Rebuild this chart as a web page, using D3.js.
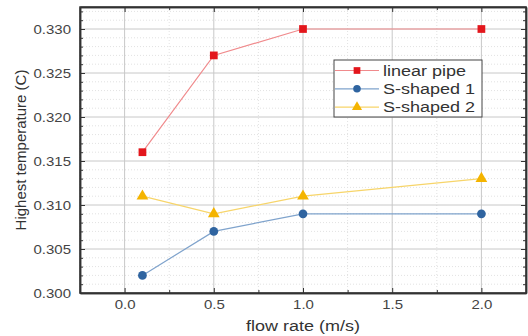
<!DOCTYPE html>
<html>
<head>
<meta charset="utf-8">
<script src="https://cdn.jsdelivr.net/npm/d3@7"></script>
<style>
  body { margin: 0; background: #fff; }
  text { font-family: "Liberation Sans", Arial, sans-serif; }
</style>
</head>
<body>
<svg id="chart" width="528" height="336"></svg>
<script>
const flowRates = [0.1, 0.5, 1.0, 2.0];
const linearPipe = [0.316, 0.327, 0.330, 0.330];
const sShaped1 = [0.302, 0.307, 0.309, 0.309];
const sShaped2 = [0.311, 0.309, 0.311, 0.313];
const seriesNames = ['linear pipe', 'S-shaped 1', 'S-shaped 2'];
const xTicks = [0.0, 0.5, 1.0, 1.5, 2.0];
const yTicks = [0.300, 0.305, 0.310, 0.315, 0.320, 0.325, 0.330];

const margin = {top: 7, right: 2, bottom: 43, left: 80};
const svg = d3.select('#chart');
const width = 528 - margin.left - margin.right;
const height = 336 - margin.top - margin.bottom;
// the source picture is stretched sideways, so horizontal text is widened
const stretch = 1.2;

function translate(x, y) {
  return `translate(${x}, ${y})`;
}

const xScale = d3.scaleLinear().domain([-0.25, 2.25]).range([0, width]);
const yScale = d3.scaleLinear().domain([0.300, 0.3325]).range([height, 0]);

const g = svg.append('g').attr('transform', translate(margin.left, margin.top));

// minor grid (dotted)
const xMinor = d3.range(-0.25, 2.26, 0.25).filter(v => Math.abs(v * 2 - Math.round(v * 2)) > 0.01);
const yMinor = d3.range(0.300, 0.3326, 0.001).filter(v => Math.abs(v * 200 - Math.round(v * 200)) > 0.01);

g.selectAll('.xminor').data(xMinor).enter().append('line')
  .attr('x1', d => xScale(d)).attr('x2', d => xScale(d))
  .attr('y1', 0).attr('y2', height)
  .style('stroke', '#e2e2e2').style('stroke-dasharray', '1,2');
g.selectAll('.yminor').data(yMinor).enter().append('line')
  .attr('y1', d => yScale(d)).attr('y2', d => yScale(d))
  .attr('x1', 0).attr('x2', width)
  .style('stroke', '#e2e2e2').style('stroke-dasharray', '1,2');

// major grid
g.selectAll('.xgrid').data(xTicks).enter().append('line')
  .attr('x1', d => xScale(d)).attr('x2', d => xScale(d))
  .attr('y1', 0).attr('y2', height)
  .style('stroke', '#c8c8c8');
g.selectAll('.ygrid').data(yTicks).enter().append('line')
  .attr('y1', d => yScale(d)).attr('y2', d => yScale(d))
  .attr('x1', 0).attr('x2', width)
  .style('stroke', '#c8c8c8');

// axes
const xAxis = g.append('g').attr('transform', translate(0, height))
  .call(d3.axisBottom(xScale).tickValues(xTicks).tickFormat(d3.format('.1f')).tickSizeInner(-5).tickSizeOuter(0).tickPadding(7));
g.append('g').attr('transform', translate(0, height))
  .call(d3.axisBottom(xScale).tickValues(xMinor).tickFormat('').tickSizeInner(-3).tickSizeOuter(0));
const yAxis = g.append('g')
  .call(d3.axisLeft(yScale).tickValues(yTicks).tickFormat(d3.format('.3f')).tickSizeInner(-5).tickSizeOuter(0).tickPadding(9));
g.append('g')
  .call(d3.axisLeft(yScale).tickValues(yMinor).tickFormat('').tickSizeInner(-3).tickSizeOuter(0));
g.append('g')
  .call(d3.axisTop(xScale).tickValues(xTicks).tickFormat('').tickSizeInner(-5).tickSizeOuter(0));
g.append('g')
  .call(d3.axisTop(xScale).tickValues(xMinor).tickFormat('').tickSizeInner(-3).tickSizeOuter(0));
g.append('g').attr('transform', translate(width, 0))
  .call(d3.axisRight(yScale).tickValues(yTicks).tickFormat('').tickSizeInner(-5).tickSizeOuter(0));
g.append('g').attr('transform', translate(width, 0))
  .call(d3.axisRight(yScale).tickValues(yMinor).tickFormat('').tickSizeInner(-3).tickSizeOuter(0));

g.selectAll('.domain').style('stroke', '#333').style('stroke-width', 1.5);
g.selectAll('.tick line').style('stroke', '#333');
g.selectAll('.tick text').style('font-size', '12.5px').style('fill', '#444');
xAxis.selectAll('.tick text').attr('transform', `scale(${stretch},1)`);
yAxis.selectAll('.tick text')
  .attr('x', -9 / stretch)
  .attr('transform', `scale(${stretch},1)`);

// frame
g.append('rect').attr('width', width).attr('height', height)
  .style('fill', 'none').style('stroke', '#333').style('stroke-width', 1.5);

// axis titles
svg.append('text')
  .attr('transform', translate(margin.left + xScale(1.0), 331) + ` scale(${stretch},1)`)
  .attr('text-anchor', 'middle').style('font-size', '15px').style('fill', '#333')
  .text('flow rate (m/s)');
svg.append('text')
  .attr('transform', translate(26, margin.top + height / 2) + ' rotate(-90)')
  .attr('text-anchor', 'middle').style('font-size', '15px').style('fill', '#333')
  .text('Highest temperature (C)');

// series
const series = [
  {name: seriesNames[0], values: linearPipe, line: '#f08a8c', mark: '#e3161c', shape: d3.symbolSquare, size: 60},
  {name: seriesNames[1], values: sShaped1, line: '#7fa3cc', mark: '#2f64a0', shape: d3.symbolCircle, size: 60},
  {name: seriesNames[2], values: sShaped2, line: '#f7d56a', mark: '#f4b400', shape: d3.symbolTriangle, size: 60}
];

const line = d3.line()
  .x((d, i) => xScale(flowRates[i]))
  .y(d => yScale(d));

series.forEach(s => {
  g.append('path').datum(s.values)
    .attr('d', line)
    .style('fill', 'none').style('stroke', s.line).style('stroke-width', 1.2);
  g.selectAll(null).data(s.values).enter().append('path')
    .attr('transform', (d, i) => translate(xScale(flowRates[i]), yScale(d)))
    .attr('d', d3.symbol().type(s.shape).size(s.size))
    .style('fill', s.mark);
});

// legend
const legend = svg.append('g').attr('transform', translate(334, 60));
legend.append('rect').attr('width', 148).attr('height', 57)
  .style('fill', '#fff').style('stroke', '#444').style('stroke-width', 1);
series.forEach((s, i) => {
  const y = 10.5 + i * 18.3;
  legend.append('line').attr('x1', 1).attr('x2', 45).attr('y1', y).attr('y2', y)
    .style('stroke', s.line).style('stroke-width', 1.2);
  legend.append('path').attr('transform', translate(23, y))
    .attr('d', d3.symbol().type(s.shape).size(45))
    .style('fill', s.mark);
  legend.append('text')
    .attr('transform', translate(49, y + 5) + ` scale(${stretch},1)`)
    .style('font-size', '15px').style('fill', '#333')
    .text(s.name);
});
</script>
</body>
</html>
